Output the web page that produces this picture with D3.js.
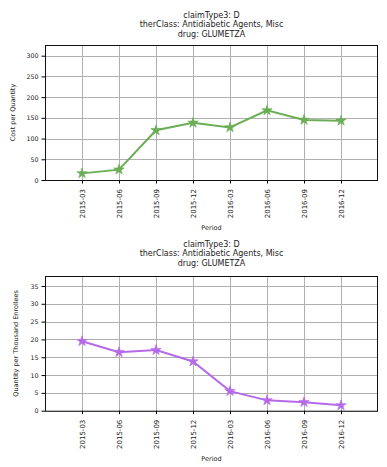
<!DOCTYPE html>
<html><head><meta charset="utf-8">
<script src="https://cdn.jsdelivr.net/npm/d3@7"></script>
<style>body{margin:0;background:#fff}svg{display:block}text{font-family:"DejaVu Sans",sans-serif;fill:#222}</style>
</head><body>
<script>
const periods = ["2015-03","2015-06","2015-09","2015-12","2016-03","2016-06","2016-09","2016-12"];
const costPerQuantity = [16, 25, 120, 138, 127, 168, 145, 143];
const qtyPerThousand = [19.5, 16.4, 17.0, 13.8, 5.5, 2.9, 2.4, 1.5];
const costTicks = [0,50,100,150,200,250,300];
const qtyTicks = [0,5,10,15,20,25,30,35];
const titleLines = ["claimType3: D","therClass: Antidiabetic Agents, Misc","drug: GLUMETZA"];

const W = 387, H = 467;
const svg = d3.select("body").append("svg").attr("width", W).attr("height", H);

function panel(opts){
  const {top, bottom, yMax, values, ticks, color, ylabel, ylabelX, titleY} = opts;
  const left = 45, right = 378;
  const g = svg.append("g");
  const x = d3.scaleLinear().domain([-1, 8]).range([left, right]);
  const y = d3.scaleLinear().domain([0, yMax]).range([bottom, top]);
  // grid
  g.append("g").selectAll("line").data(ticks).join("line")
    .attr("x1", left).attr("x2", right).attr("y1", d=>Math.round(y(d))+0.5).attr("y2", d=>Math.round(y(d))+0.5)
    .attr("stroke", "#b0b0b0").attr("stroke-width", 1);
  g.append("g").selectAll("line").data(periods).join("line")
    .attr("x1", (d,i)=>Math.round(x(i))+0.5).attr("x2", (d,i)=>Math.round(x(i))+0.5).attr("y1", top).attr("y2", bottom)
    .attr("stroke", "#b0b0b0").attr("stroke-width", 1);
  // axes
  const ya = d3.axisLeft(y).tickValues(ticks).tickSize(3.5).tickPadding(3);
  const yg = g.append("g").attr("transform", `translate(${left},0)`).call(ya);
  yg.select(".domain").remove();
  yg.selectAll("text").style("font-size","6.3px").style("fill","#222");
  const xa = d3.axisBottom(x).tickValues(d3.range(periods.length)).tickFormat(i=>periods[i]).tickSize(3.5).tickPadding(3);
  const xg = g.append("g").attr("transform", `translate(0,${bottom})`).call(xa);
  xg.select(".domain").remove();
  xg.selectAll("text").style("font-size","7px").style("fill","#222")
    .attr("text-anchor","end").attr("dy","0.32em").attr("dx",0)
    .attr("transform","rotate(-90)").attr("x",-9).attr("y",0);
  // frame
  g.append("rect").attr("x", left+0.5).attr("y", top+0.5).attr("width", right-left-1).attr("height", bottom-top)
    .attr("fill","none").attr("stroke","#111").attr("stroke-width",1);
  // line
  const line = d3.line().x((d,i)=>x(i)).y(d=>y(d));
  g.append("path").datum(values).attr("d", line).attr("fill","none").attr("stroke", color).attr("stroke-width", 2);
  g.append("g").selectAll("path").data(values).join("path")
    .attr("d", d3.symbol(d3.symbolStar, 34))
    .attr("transform", (d,i)=>`translate(${x(i)},${y(d)})`)
    .attr("fill", color).attr("stroke", color).attr("stroke-width", 0.6);
  // labels
  g.append("text").attr("x", (left+right)/2).attr("y", opts.xlabelY).attr("text-anchor","middle").style("font-size","6.5px").text("Period");
  g.append("text").attr("transform", `translate(${ylabelX},${(top+bottom)/2}) rotate(-90)`).attr("text-anchor","middle").style("font-size","6.5px").text(ylabel);
  g.append("g").selectAll("text").data(titleLines).join("text")
    .attr("x", (left+right)/2).attr("y", (d,i)=>titleY + i*9.4).attr("text-anchor","middle").style("font-size","8px").text(d=>d);
}

panel({top:45, bottom:180, yMax:325.8, values:costPerQuantity, ticks:costTicks, color:"#6aae55",
  ylabel:"Cost per Quantity", ylabelX:15, titleY:18, xlabelY:230});
panel({top:276, bottom:410.7, yMax:37.8, values:qtyPerThousand, ticks:qtyTicks, color:"#b56be8",
  ylabel:"Quantity per Thousand Enrollees", ylabelX:18, titleY:247, xlabelY:461});
</script>
</body></html>
